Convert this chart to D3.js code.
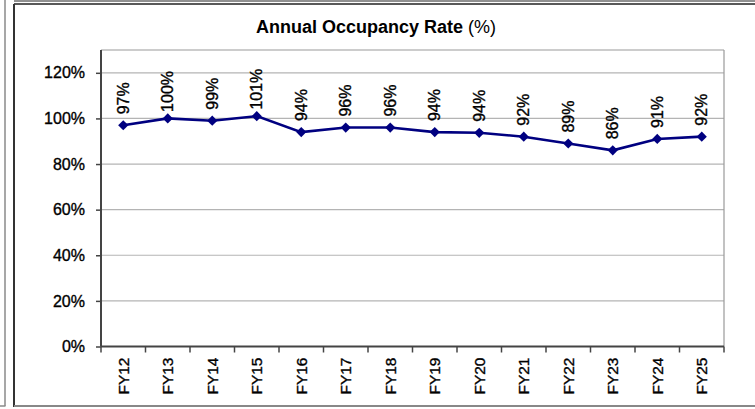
<!DOCTYPE html>
<html>
<head>
<meta charset="utf-8">
<script src="https://cdn.jsdelivr.net/npm/d3@7"></script>
<style>
  body { margin: 0; background: #fff; }
  text { font-family: "Liberation Sans", Arial, sans-serif; fill: #000; }
  .heavy { stroke: #000; stroke-width: 0.35px; }
</style>
</head>
<body>
<script>
// data
var years = ["FY12", "FY13", "FY14", "FY15", "FY16", "FY17", "FY18", "FY19", "FY20", "FY21", "FY22", "FY23", "FY24", "FY25"];
var occupancy = [97, 100, 99, 101, 94, 96, 96, 94, 93.7, 92, 89, 86, 91, 92];
var yTicks = [0, 20, 40, 60, 80, 100, 120];
var title = "Annual Occupancy Rate";

var width = 755, height = 409;
var svg = d3.select("body").append("svg").attr("width", width).attr("height", height);

// frames
svg.append("line").attr("x1", 5).attr("y1", 0).attr("x2", 5).attr("y2", 406).attr("stroke", "#8a8a8a").attr("stroke-width", 1.5);
svg.append("line").attr("x1", 0).attr("y1", 406).attr("x2", 5.5).attr("y2", 406).attr("stroke", "#8a8a8a").attr("stroke-width", 1.5);
svg.append("line").attr("x1", 14).attr("y1", 1).attr("x2", width).attr("y2", 1).attr("stroke", "#222").attr("stroke-width", 1);
svg.append("line").attr("x1", 14).attr("y1", 4).attr("x2", width).attr("y2", 4).attr("stroke", "#222").attr("stroke-width", 1.5);
svg.append("line").attr("x1", 14).attr("y1", 4).attr("x2", 14).attr("y2", 407).attr("stroke", "#333").attr("stroke-width", 2);
svg.append("line").attr("x1", 14).attr("y1", 406).attr("x2", width).attr("y2", 406).attr("stroke", "#888").attr("stroke-width", 2);

// title
var t = svg.append("text").attr("x", 376).attr("y", 33).attr("text-anchor", "middle").style("font-size", "18px");
t.append("tspan").style("font-weight", "bold").text(title);
t.append("tspan").text(" (%)");

var pLeft = 101, pRight = 724, pTop = 50, pBottom = 346.5;

var x = d3.scaleBand().domain(years).range([pLeft, pRight]);
var y = d3.scaleLinear().domain([0, 130]).range([pBottom, pTop]);

// grid
svg.append("g").selectAll("line").data(yTicks.slice(1)).enter().append("line")
  .attr("x1", pLeft).attr("x2", pRight)
  .attr("y1", function(d) { return y(d); }).attr("y2", function(d) { return y(d); })
  .attr("stroke", "#b4b4b4").attr("stroke-width", 1.2);

// plot border top/right
svg.append("line").attr("x1", pLeft).attr("y1", pTop).attr("x2", pRight).attr("y2", pTop).attr("stroke", "#999").attr("stroke-width", 1.2);
svg.append("line").attr("x1", pRight).attr("y1", pTop).attr("x2", pRight).attr("y2", pBottom).attr("stroke", "#999").attr("stroke-width", 1.2);

// y axis
var yAxis = svg.append("g").attr("transform", "translate(" + pLeft + ",0)")
  .call(d3.axisLeft(y).tickValues(yTicks).tickSize(5).tickPadding(11).tickFormat(function(d) { return d + "%"; }));
yAxis.select(".domain").attr("d", "M0," + pTop + "V" + pBottom).attr("stroke", "#444").attr("stroke-width", 2);
yAxis.selectAll(".tick line").attr("stroke", "#444").attr("stroke-width", 1.5);
yAxis.selectAll("text").attr("class", "heavy").style("font-size", "16px").attr("fill", "#000");

// x axis
var xAxis = svg.append("g").attr("transform", "translate(0," + pBottom + ")")
  .call(d3.axisBottom(x).tickSize(0).tickPadding(0));
xAxis.select(".domain").attr("d", "M" + pLeft + ",0H" + pRight).attr("stroke", "#444").attr("stroke-width", 2);
xAxis.selectAll(".tick text")
  .attr("class", "heavy")
  .attr("y", 0).attr("dy", null)
  .attr("transform", "translate(0,11) rotate(-90)")
  .attr("text-anchor", "end").attr("dominant-baseline", "central")
  .style("font-size", "15.5px").attr("fill", "#000");
svg.append("g").selectAll("line").data(years.concat(["end"])).enter().append("line")
  .attr("x1", function(d, i) { return pLeft + i * x.step(); })
  .attr("x2", function(d, i) { return pLeft + i * x.step(); })
  .attr("y1", pBottom).attr("y2", pBottom + 6)
  .attr("stroke", "#444").attr("stroke-width", 1.5);

// series
var cx = function(d, i) { return x(years[i]) + x.bandwidth() / 2; };
var line = d3.line().x(cx).y(function(d) { return y(d); });
svg.append("path").datum(occupancy).attr("d", line)
  .attr("fill", "none").attr("stroke", "#000080").attr("stroke-width", 2.6);

svg.append("g").selectAll("path").data(occupancy).enter().append("path")
  .attr("d", d3.symbol().type(d3.symbolSquare).size(52))
  .attr("transform", function(d, i) { return "translate(" + cx(d, i) + "," + y(d) + ") rotate(45)"; })
  .attr("fill", "#000080");

svg.append("g").selectAll("text").data(occupancy).enter().append("text")
  .attr("class", "heavy")
  .attr("transform", function(d, i) { return "translate(" + cx(d, i) + "," + (y(d) - 27) + ") rotate(-90)"; })
  .attr("text-anchor", "middle").attr("dominant-baseline", "central")
  .style("font-size", "16px")
  .text(function(d) { return Math.round(d) + "%"; });
</script>
</body>
</html>
